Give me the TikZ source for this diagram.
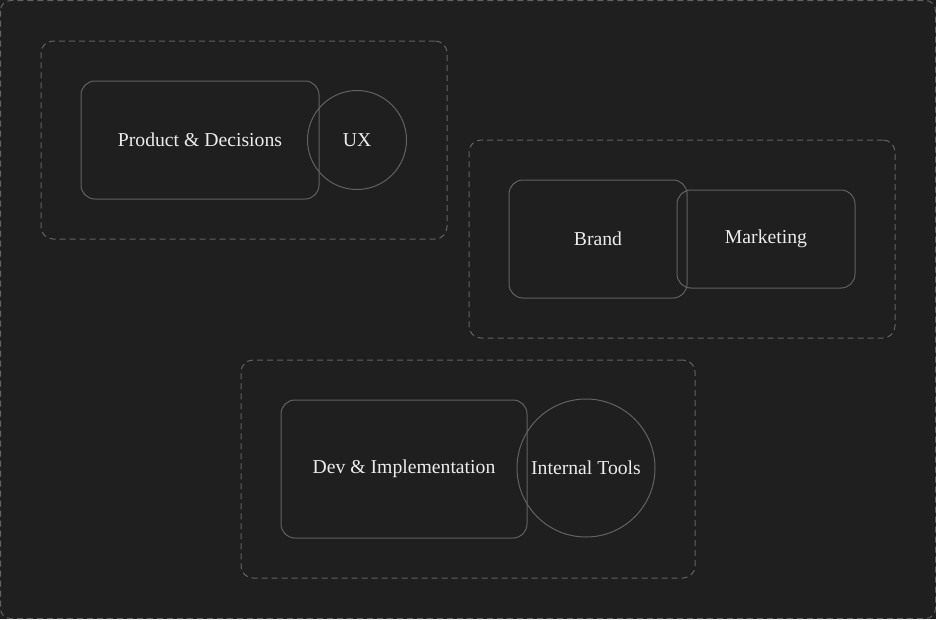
\documentclass[tikz,border=0pt]{standalone}
\usepackage{fontspec}
\setmainfont{Liberation Serif}
\usepackage{xcolor}
\usepackage{tikz}
\usetikzlibrary{positioning, backgrounds}

\definecolor{canvas}{HTML}{1F1F1F}
\definecolor{edge}{HTML}{626262}
\definecolor{ink}{HTML}{ECECEC}

\begin{document}
\begin{tikzpicture}[
    x=1pt, y=-1pt,
    font=\fontsize{19.7}{23}\selectfont,
    % Node styles
    groupbox/.style={draw=edge, dash pattern=on 6pt off 4pt, rounded corners=12pt, line width=1pt, inner sep=0pt},
    areabox/.style={draw=edge, rounded corners=14pt, line width=1pt, text=ink, align=center, inner sep=0pt},
    circbox/.style={draw=edge, circle, line width=1pt, text=ink, align=center, inner sep=0pt}
]

% ========== CANVAS ==========
\fill[canvas] (0,0) rectangle (936,619);
\useasboundingbox (0,0) rectangle (936,619);
\draw[edge, line width=1pt, dash pattern=on 6pt off 4pt, rounded corners=10pt] (0.5,0.5) rectangle (935.5,618.5);

% ========== GROUP A: Product ==========
\node[groupbox, minimum width=406pt, minimum height=198pt] (grpA) at (244,140) {};
\node[areabox, minimum width=238pt, minimum height=118pt] (product) at (200,140) {Product \& Decisions};
\node[circbox, minimum size=99pt] (ux) at (357,140) {UX};

% ========== GROUP B: Brand ==========
\node[groupbox, minimum width=426pt, minimum height=198pt] (grpB) at (682,239) {};
\node[areabox, minimum width=178pt, minimum height=118pt] (brand) at (598,239) {Brand};
\node[areabox, minimum width=178pt, minimum height=98pt] (marketing) at (766,239) {Marketing};

% ========== GROUP C: Dev ==========
\node[groupbox, minimum width=454pt, minimum height=218pt] (grpC) at (468,469) {};
\node[areabox, minimum width=246pt, minimum height=138pt] (dev) at (404,469) {Dev \& Implementation};
\node[circbox, minimum size=138pt] (tools) at (586,468) {Internal Tools};

\end{tikzpicture}
\end{document}
